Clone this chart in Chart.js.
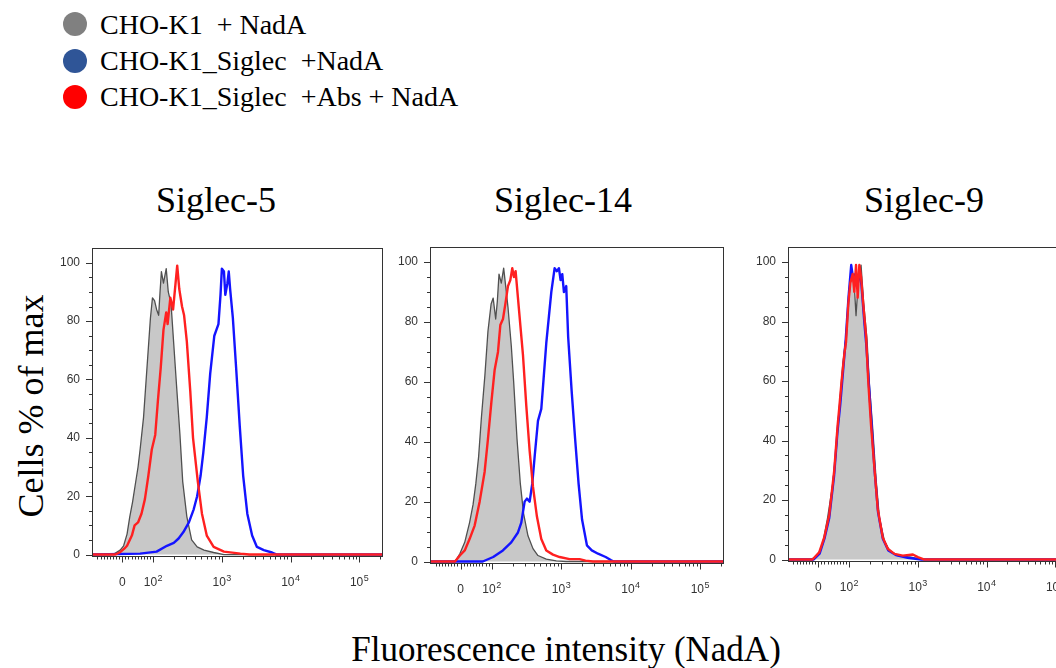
<!DOCTYPE html>
<html>
<head>
<meta charset="utf-8">
<title>NadA binding to CHO-K1 Siglec cells</title>
<script src="https://cdn.jsdelivr.net/npm/chart.js@4.4.1/dist/chart.umd.min.js"></script>
<style>
  html, body { margin: 0; padding: 0; }
  body {
    width: 1056px; height: 668px; overflow: hidden; background: #fff; position: relative;
    font-family: "Liberation Serif", "Times New Roman", serif; color: #000;
  }
  .txt { position: absolute; white-space: pre; line-height: 1; }
  .dot { position: absolute; width: 24px; height: 24px; border-radius: 50%; }
  canvas { position: absolute; }
</style>
</head>
<body>
<div class="txt" id="ytitle" style="font-size:36px; left:31px; top:406px; transform:translate(-50%,-50%) rotate(-90deg);">Cells % of max</div>
<div class="txt" id="xtitle" style="font-size:35px; left:266px; width:600px; top:632px; text-align:center;">Fluorescence intensity (NadA)</div>

<script>
// legend / panel names
const legendLabels = ["CHO-K1  + NadA", "CHO-K1_Siglec  +NadA", "CHO-K1_Siglec  +Abs + NadA"];
const legendColors = ["#808080", "#2f5597", "#ff0000"];
const panelTitles = ["Siglec-5", "Siglec-14", "Siglec-9"];

// x is the display position on the biexponential axis, in decades (10^2 -> 2, 10^3 -> 3 ...)
const xTickPositions = [1.55, 2, 3, 4, 5];
const xTickBase = ["0", "10", "10", "10", "10"];
const xTickExp = ["", "2", "3", "4", "5"];
const yTickValues = [0, 20, 40, 60, 80, 100];
const X_MIN = 1.11, X_MAX = 5.33;

// Siglec-5
const s5Grey = [[1.11,0],[1.40,0],[1.45,0.5],[1.52,1.5],[1.57,3],[1.62,7],[1.66,13],[1.70,18],[1.74,24],[1.78,30],[1.81,36],[1.86,47],[1.91,64],[1.96,81],[1.99,88],[2.02,87],[2.05,84],[2.08,82],[2.10,90],[2.12,97],[2.15,93],[2.19,98],[2.22,90],[2.26,86],[2.30,72],[2.34,58],[2.39,41],[2.43,25],[2.49,13],[2.56,5],[2.64,2.6],[2.74,1.5],[2.88,0.7],[3.03,0],[5.33,0]];
const s5Blue = [[1.11,0],[1.81,0.3],[2.05,1],[2.20,3],[2.30,4],[2.37,5.5],[2.44,7.7],[2.52,11],[2.59,15.5],[2.64,20],[2.69,27],[2.73,35],[2.78,47],[2.83,62],[2.89,75],[2.95,79],[2.98,89],[3.00,98],[3.03,97],[3.05,89],[3.08,93],[3.10,97],[3.12,91],[3.16,81],[3.21,63],[3.26,44],[3.31,27],[3.37,14],[3.44,6.5],[3.51,2.6],[3.61,1.5],[3.73,0.7],[3.80,0],[5.33,0]];
const s5Red = [[1.11,0],[1.45,0],[1.52,0.8],[1.58,2],[1.62,3],[1.69,6.5],[1.73,10],[1.78,11],[1.83,14],[1.88,19],[1.93,27],[1.98,36],[2.03,41],[2.07,53],[2.11,64],[2.15,77],[2.19,83],[2.21,79],[2.25,88],[2.29,84],[2.35,99],[2.38,91],[2.42,85],[2.45,82],[2.49,73],[2.54,56],[2.58,40],[2.65,25],[2.71,14],[2.78,6.5],[2.88,2.6],[3.03,1],[3.27,0.3],[3.40,0],[5.33,0]];

// Siglec-14
const s14Grey = [[1.11,0],[1.47,0],[1.54,2.6],[1.61,6.4],[1.68,13],[1.73,19],[1.77,26],[1.81,35],[1.85,48],[1.90,62],[1.945,77],[1.99,86],[2.02,88],[2.056,81],[2.08,87],[2.104,96],[2.137,93],[2.171,98],[2.20,92],[2.233,85],[2.281,72],[2.315,60],[2.363,41],[2.411,26],[2.458,16],[2.521,8.6],[2.593,4.3],[2.665,2],[2.785,0.8],[2.929,0.2],[3.07,0],[5.33,0]];
const s14Blue = [[1.11,0],[1.87,0],[2.02,1.5],[2.16,3.7],[2.28,6.4],[2.377,9.7],[2.425,13],[2.473,20],[2.506,21],[2.545,20],[2.583,26],[2.617,35],[2.665,47],[2.713,51],[2.746,61],[2.785,73],[2.823,82],[2.857,90],[2.905,98],[2.938,97],[2.967,98],[2.991,94],[3.015,96],[3.039,90],[3.072,92],[3.10,75],[3.15,57],[3.20,41],[3.25,26],[3.30,14],[3.37,5.4],[3.44,3.7],[3.53,2.6],[3.64,1.5],[3.72,0.4],[3.76,0],[5.33,0]];
const s14Red = [[1.11,0],[1.47,0],[1.54,2],[1.61,3.7],[1.68,7.5],[1.753,12],[1.825,20],[1.897,30],[1.945,41],[1.993,53],[2.041,64],[2.089,70],[2.123,79],[2.161,81],[2.195,86],[2.233,92],[2.267,94],[2.295,98],[2.319,95],[2.343,97],[2.377,88],[2.411,79],[2.449,69],[2.497,52],[2.545,37],[2.593,25],[2.65,15],[2.713,7.5],[2.785,3.7],[2.881,2.3],[2.977,1.5],[3.12,0.8],[3.264,0.8],[3.35,0.3],[3.456,0],[5.33,0]];

// Siglec-9
const s9Grey = [[1.11,0],[1.443,0],[1.54,1.3],[1.613,5.2],[1.686,14],[1.759,25],[1.808,36],[1.856,51],[1.905,65],[1.954,75],[2.002,91],[2.036,96],[2.075,92],[2.10,82],[2.134,94],[2.173,99],[2.212,86],[2.26,74],[2.294,59],[2.343,44],[2.392,27],[2.44,14],[2.513,6.3],[2.586,3],[2.708,1.3],[2.902,0.8],[3.048,0],[5.33,0]];
const s9Blue = [[1.11,0],[1.48,0],[1.57,2],[1.64,7],[1.71,14],[1.78,28],[1.83,43],[1.87,52],[1.91,63],[1.95,74],[1.99,88],[2.03,99],[2.06,94],[2.09,96],[2.12,92],[2.15,97],[2.18,92],[2.22,80],[2.25,72],[2.29,58],[2.33,44],[2.37,30],[2.42,16],[2.49,7],[2.57,3],[2.68,1.5],[2.85,0.6],[3.05,0],[5.33,0]];
const s9Red = [[1.11,0],[1.467,0],[1.564,2.4],[1.637,7.4],[1.71,15],[1.783,30],[1.832,45],[1.856,51],[1.89,60],[1.929,69],[1.954,73],[1.988,86],[2.017,93],[2.051,96],[2.075,90],[2.10,99],[2.124,88],[2.148,99],[2.173,95],[2.212,84],[2.246,75],[2.28,59],[2.319,45],[2.367,31],[2.416,17],[2.489,7.4],[2.562,3.6],[2.659,1.9],[2.781,1.3],[2.927,1.7],[3.0,0.8],[3.097,0],[5.33,0]];

const panelSeries = [
  [s5Grey, s5Blue, s5Red],
  [s14Grey, s14Blue, s14Red],
  [s9Grey, s9Blue, s9Red]
];

// where things go on the page
const panelBoxes = [
  { left: 50, top: 235, width: 342, height: 366 },
  { left: 388, top: 234, width: 345, height: 374 },
  { left: 746, top: 234, width: 342, height: 372 }
];
const titleCenters = [216, 563, 924];

// legend
legendLabels.forEach((label, i) => {
  const dot = document.createElement("div");
  dot.className = "dot";
  dot.style.left = "63px";
  dot.style.top = (12 + i * 36.5) + "px";
  dot.style.background = legendColors[i];
  document.body.appendChild(dot);

  const t = document.createElement("div");
  t.className = "txt";
  t.style.fontSize = "28px";
  t.style.left = "100px";
  t.style.top = (11 + i * 36) + "px";
  t.textContent = label;
  document.body.appendChild(t);
});

panelTitles.forEach((title, i) => {
  const t = document.createElement("div");
  t.className = "txt";
  t.style.fontSize = "36px";
  t.style.left = (titleCenters[i] - 150) + "px";
  t.style.width = "300px";
  t.style.textAlign = "center";
  t.style.top = "182px";
  t.textContent = title;
  document.body.appendChild(t);
});

// minor tick spots on the x axis: linear part around zero, log part above 10^2
function axisPos(v) {
  return v >= 100 ? Math.log10(v) : 1.55 + 0.45 * v / 100;
}
const xMinor = [];
for (let v = -80; v <= 90; v += 10) if (v !== 0) xMinor.push(axisPos(v));
for (let k = 2; k <= 5; k++) for (let m = 2; m <= 9; m++) xMinor.push(axisPos(m * Math.pow(10, k)));

const SANS = "'Liberation Sans', Arial, sans-serif";

const framePlugin = {
  id: "frame",
  afterDraw(chart) {
    const { ctx, chartArea: a, scales: { x, y } } = chart;
    ctx.save();
    ctx.strokeStyle = "#333";
    ctx.lineWidth = 1;
    ctx.strokeRect(Math.round(a.left) + 0.5, Math.round(a.top) + 0.5,
      Math.round(a.right - a.left), Math.round(a.bottom - a.top));
    ctx.beginPath();
    for (let v = 0; v <= 100; v += 5) {
      const py = Math.round(y.getPixelForValue(v)) + 0.5;
      const len = v % 20 === 0 ? 6 : 3;
      ctx.moveTo(a.left - len, py);
      ctx.lineTo(a.left, py);
    }
    const bottom = Math.round(a.bottom) + 0.5;
    xTickPositions.forEach(p => {
      const px = Math.round(x.getPixelForValue(p)) + 0.5;
      ctx.moveTo(px, bottom);
      ctx.lineTo(px, bottom + 6);
    });
    xMinor.forEach(p => {
      if (p < X_MIN || p > X_MAX) return;
      const px = Math.round(x.getPixelForValue(p)) + 0.5;
      ctx.moveTo(px, bottom);
      ctx.lineTo(px, bottom + 3);
    });
    ctx.stroke();

    // x labels with raised exponent
    ctx.fillStyle = "#333";
    ctx.textBaseline = "alphabetic";
    ctx.textAlign = "left";
    xTickPositions.forEach((p, i) => {
      const px = x.getPixelForValue(p);
      ctx.font = "12px " + SANS;
      const w1 = ctx.measureText(xTickBase[i]).width;
      ctx.font = "9px " + SANS;
      const w2 = xTickExp[i] ? ctx.measureText(xTickExp[i]).width + 0.5 : 0;
      const x0 = px - (w1 + w2) / 2;
      const base = a.bottom + 30;
      ctx.font = "12px " + SANS;
      ctx.fillText(xTickBase[i], x0, base);
      if (xTickExp[i]) {
        ctx.font = "9px " + SANS;
        ctx.fillText(xTickExp[i], x0 + w1 + 0.5, base - 5);
      }
    });
    ctx.restore();
  }
};

const toPoints = arr => arr.map(p => ({ x: p[0], y: p[1] }));
const tickFont = { family: SANS, size: 12 };

panelSeries.forEach((series, i) => {
  const box = panelBoxes[i];
  const canvas = document.createElement("canvas");
  canvas.width = box.width;
  canvas.height = box.height;
  canvas.style.left = box.left + "px";
  canvas.style.top = box.top + "px";
  canvas.style.width = box.width + "px";
  canvas.style.height = box.height + "px";
  document.body.appendChild(canvas);

  new Chart(canvas, {
    type: "line",
    data: {
      datasets: [
        {
          label: legendLabels[0],
          data: toPoints(series[0]),
          borderColor: "#505050",
          borderWidth: 1.3,
          backgroundColor: "#c8c8c8",
          fill: "origin",
          order: 3
        },
        {
          label: legendLabels[1],
          data: toPoints(series[1]),
          borderColor: "#1414ff",
          borderWidth: 2.4,
          fill: false,
          order: 2
        },
        {
          label: legendLabels[2],
          data: toPoints(series[2]),
          borderColor: "#ff2020",
          borderWidth: 2.4,
          fill: false,
          order: 1
        }
      ]
    },
    options: {
      responsive: false,
      animation: false,
      parsing: false,
      elements: { point: { radius: 0 }, line: { tension: 0, borderJoinStyle: "round" } },
      layout: { padding: { left: 5, right: 10, top: 10, bottom: 5 } },
      plugins: { legend: { display: false }, tooltip: { enabled: false } },
      scales: {
        x: {
          type: "linear",
          min: X_MIN,
          max: X_MAX,
          afterFit: s => { s.height = 40; },
          afterBuildTicks: s => { s.ticks = xTickPositions.map(v => ({ value: v })); },
          ticks: { display: false },
          grid: { display: false, tickLength: 6 },
          border: { display: false }
        },
        y: {
          min: -0.5,
          max: 105,
          afterFit: s => { s.width = 37; },
          afterBuildTicks: s => { s.ticks = yTickValues.map(v => ({ value: v })); },
          ticks: { font: tickFont, color: "#333", padding: 6 },
          grid: { display: false, tickLength: 6 },
          border: { display: false }
        }
      }
    },
    plugins: [framePlugin]
  });
});
</script>
</body>
</html>
